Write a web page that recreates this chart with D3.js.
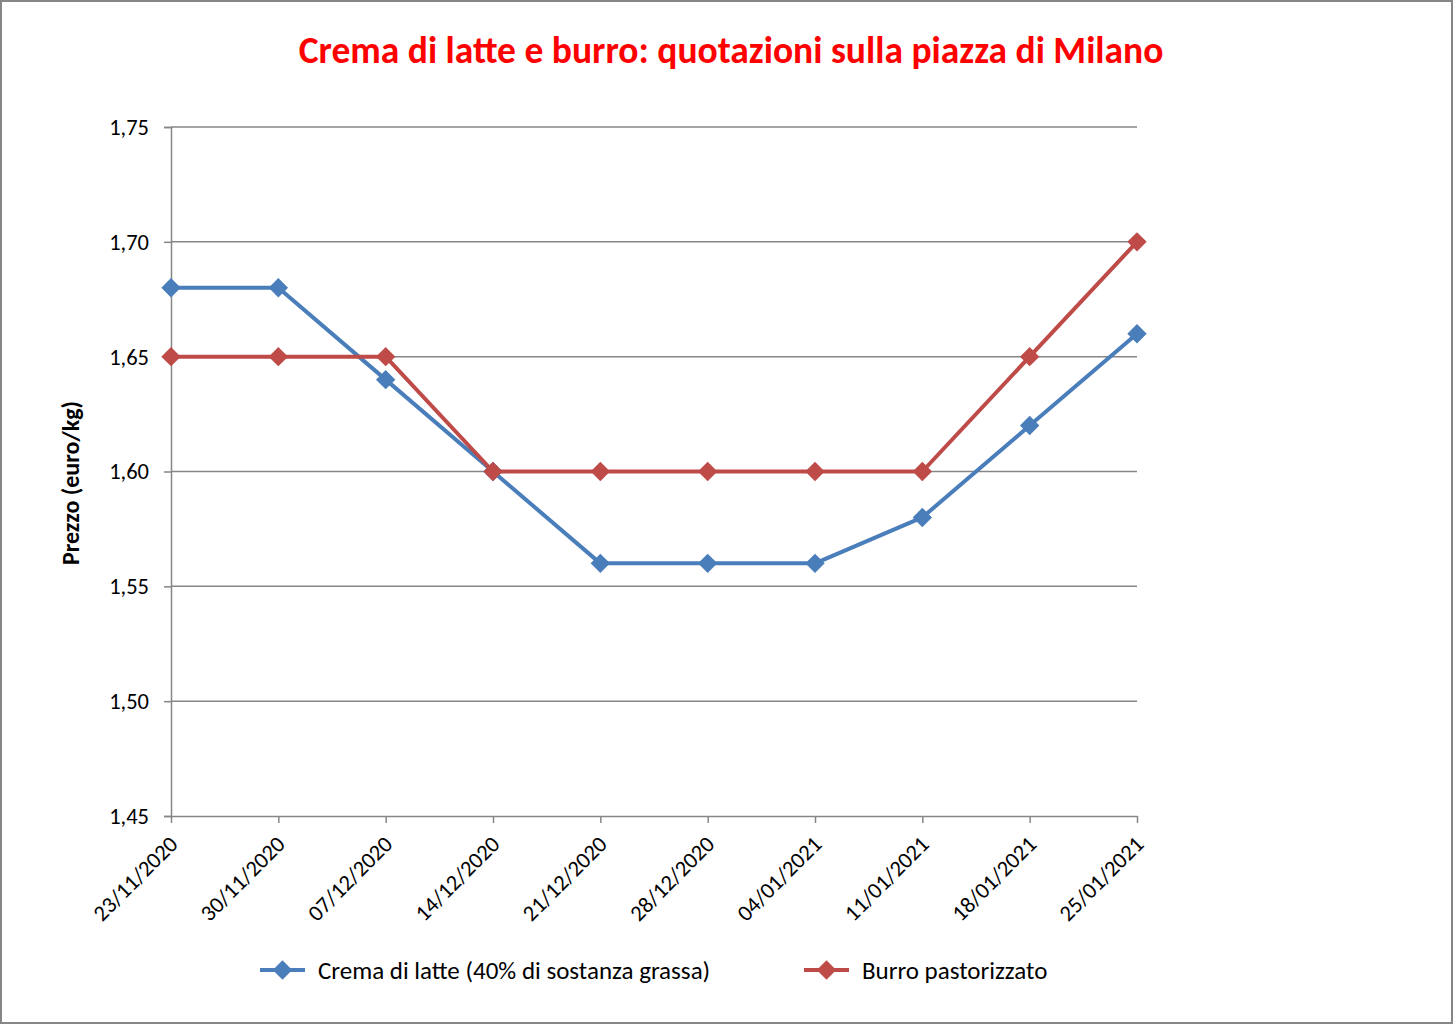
<!DOCTYPE html>
<html>
<head>
<meta charset="utf-8">
<script src="https://cdn.jsdelivr.net/npm/d3@7"></script>
<style>
  body { margin: 0; background: #fff; }
  svg { display: block; }
</style>
</head>
<body>
<div id="chart"></div>
<script>
// Frame size and plot area
const FRAME_WIDTH = 1453;
const FRAME_HEIGHT = 1024;
const PLOT = {left: 171, right: 1137, top: 127, bottom: 816};
const FONT = "Carlito, Calibri, 'Open Sans', sans-serif";

// Data
const dates = ["23/11/2020", "30/11/2020", "07/12/2020", "14/12/2020", "21/12/2020",
               "28/12/2020", "04/01/2021", "11/01/2021", "18/01/2021", "25/01/2021"];
const crema = [1.68, 1.68, 1.64, 1.60, 1.56, 1.56, 1.56, 1.58, 1.62, 1.66];
const burro = [1.65, 1.65, 1.65, 1.60, 1.60, 1.60, 1.60, 1.60, 1.65, 1.70];
const yTicks = [1.45, 1.50, 1.55, 1.60, 1.65, 1.70, 1.75];
const seriesNames = ["Crema di latte (40% di sostanza grassa)", "Burro pastorizzato"];
const seriesColors = ["#4A7EBB", "#BE4B48"];

const svg = d3.select("#chart")
    .append("svg")
      .attr("width", FRAME_WIDTH)
      .attr("height", FRAME_HEIGHT);

// outer border
svg.append("rect")
    .attr("x", 1).attr("y", 1)
    .attr("width", FRAME_WIDTH - 2).attr("height", FRAME_HEIGHT - 2)
    .attr("fill", "#fff")
    .attr("stroke", "#868686")
    .attr("stroke-width", 2);

// scales
const X = d3.scalePoint()
    .domain(dates)
    .range([PLOT.left, PLOT.right]);

const Y = d3.scaleLinear()
    .domain([1.45, 1.75])
    .range([PLOT.bottom, PLOT.top]);

// grid lines
svg.append("g")
    .selectAll("line")
    .data(yTicks.slice(1))
    .enter()
    .append("line")
      .attr("x1", PLOT.left).attr("x2", PLOT.right)
      .attr("y1", d => Y(d)).attr("y2", d => Y(d))
      .attr("stroke", "#868686")
      .attr("stroke-width", 1.5);

// y axis
const yAxis = svg.append("g")
    .attr("transform", "translate(" + PLOT.left + ",0)")
    .call(d3.axisLeft(Y).tickValues(yTicks).tickSize(7).tickPadding(15)
        .tickFormat(d => d3.format(".2f")(d).replace(".", ",")));
yAxis.selectAll("line, path").attr("stroke", "#868686").attr("stroke-width", 1.5);
yAxis.selectAll("text")
    .attr("font-family", FONT)
    .attr("font-size", "22.5px")
    .attr("fill", "#000")
    .attr("dy", "0.33em");

// x axis
const xAxis = svg.append("g")
    .attr("transform", "translate(0," + PLOT.bottom + ")")
    .call(d3.axisBottom(X).tickSize(7).tickSizeOuter(0));
xAxis.select("path").attr("stroke", "#868686").attr("stroke-width", 1.5);
xAxis.selectAll("line").attr("stroke", "#868686").attr("stroke-width", 1.5);
xAxis.selectAll("text")
    .attr("font-family", FONT)
    .attr("font-size", "22.5px")
    .attr("fill", "#000")
    .attr("text-anchor", "end")
    .attr("transform", "translate(2,24) rotate(-45)")
    .attr("dy", "0.35em")
    .attr("y", 0)
    .attr("x", 0);

// series lines and markers
const line = d3.line()
    .x((d, i) => X(dates[i]))
    .y(d => Y(d));

const diamond = d3.symbol().type(d3.symbolDiamond2).size(240);

[crema, burro].forEach((values, s) => {
  svg.append("path")
      .datum(values)
      .attr("d", line)
      .attr("fill", "none")
      .attr("stroke", seriesColors[s])
      .attr("stroke-width", 4)
      .attr("stroke-linejoin", "round");

  svg.append("g")
    .selectAll("path")
    .data(values)
    .enter()
    .append("path")
      .attr("d", diamond)
      .attr("transform", (d, i) => "translate(" + X(dates[i]) + "," + Y(d) + ")")
      .attr("fill", seriesColors[s]);
});

// title
const title = svg.append("text")
    .attr("x", 731)
    .attr("y", 63)
    .attr("text-anchor", "middle")
    .attr("font-family", FONT)
    .attr("font-weight", "bold")
    .attr("font-size", "32px")
    .attr("fill", "#FF0000")
    .text("Crema di latte e burro: quotazioni sulla piazza di Milano");
// fit title width to the reference (~865px)
const tw = title.node().getComputedTextLength();
title.attr("font-size", (32 * 865 / tw) + "px");

// y axis title
svg.append("text")
    .attr("transform", "translate(79,483) rotate(-90)")
    .attr("text-anchor", "middle")
    .attr("font-family", FONT)
    .attr("font-weight", "bold")
    .attr("font-size", "24px")
    .attr("fill", "#000")
    .text("Prezzo (euro/kg)");

// legend
const legendX = [260, 804];
seriesNames.forEach((name, s) => {
  const g = svg.append("g").attr("transform", "translate(" + legendX[s] + ",970)");
  g.append("line")
      .attr("x1", 0).attr("x2", 45)
      .attr("stroke", seriesColors[s])
      .attr("stroke-width", 4);
  g.append("path")
      .attr("d", diamond)
      .attr("transform", "translate(22.5,0)")
      .attr("fill", seriesColors[s]);
  g.append("text")
      .attr("x", 58)
      .attr("dy", "0.35em")
      .attr("font-family", FONT)
      .attr("font-size", "25px")
      .attr("fill", "#000")
      .text(name);
});
</script>
</body>
</html>
